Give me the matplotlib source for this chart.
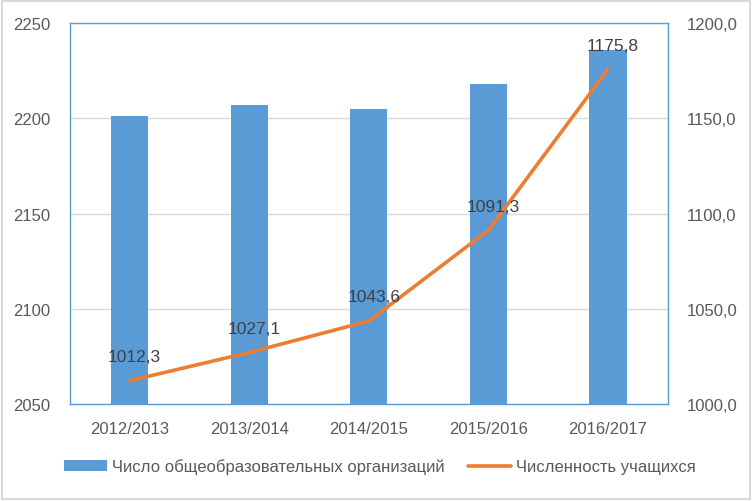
import matplotlib
matplotlib.use("Agg")
import matplotlib.pyplot as plt
from matplotlib.patches import Rectangle

categories = ["2012/2013", "2013/2014", "2014/2015", "2015/2016", "2016/2017"]
organizations = [2201, 2207, 2205, 2218, 2236]
students = [1012.3, 1027.1, 1043.6, 1091.3, 1175.8]
left_ticks = [2050, 2100, 2150, 2200, 2250]
right_ticks = [1000.0, 1050.0, 1100.0, 1150.0, 1200.0]

plt.rcParams['font.family'] = ['Liberation Sans Narrow', 'Liberation Sans', 'DejaVu Sans']
txt = '#595959'
blue = '#5B9BD5'
orange = '#ED7D31'

fig = plt.figure(figsize=(7.52, 5.02), dpi=100)
fig.patches.append(Rectangle((0.002, 0.003), 0.996, 0.994, transform=fig.transFigure,
                             fill=False, edgecolor='#D9D9D9', linewidth=1.5))
ax = fig.add_axes([0.093, 0.193, 0.795, 0.759])
x = list(range(len(categories)))
ax.bar(x, organizations, width=0.31, color=blue, zorder=2, label="Число общеобразовательных организаций")
ax.set_ylim(2050, 2250)
ax.set_yticks(left_ticks)
ax.set_yticklabels([str(v) for v in left_ticks])
ax.set_xlim(-0.5, len(categories) - 0.5)
ax.set_xticks(x)
ax.set_xticklabels(categories)
ax.grid(axis='y', color='#D9D9D9', linewidth=1, zorder=0)
ax.set_axisbelow(True)
for s in ax.spines.values():
    s.set_color(blue)
    s.set_linewidth(1)
ax.tick_params(length=0, labelsize=12, colors=txt, pad=14)
ax.tick_params(axis='x', pad=12)

ax2 = ax.twinx()
ax2.plot(x, students, color=orange, linewidth=2.6, solid_capstyle='round', zorder=3,
         label="Численность учащихся")
ax2.set_ylim(1000, 1200)
ax2.set_yticks(right_ticks)
ax2.set_yticklabels([f"{v:.1f}".replace('.', ',') for v in right_ticks])
ax2.tick_params(length=0, labelsize=12, colors=txt, pad=14)
for s in ax2.spines.values():
    s.set_visible(False)
for xi, v in zip(x, students):
    ax2.annotate(f"{v:.1f}".replace('.', ','), (xi, v), xytext=(3.5, 12), textcoords='offset points',
                 ha='center', va='bottom', fontsize=12.5, color='#404040')

h1, l1 = ax.get_legend_handles_labels()
h2, l2 = ax2.get_legend_handles_labels()
fig.legend(h1 + h2, l1 + l2, loc='center', bbox_to_anchor=(0.505, 0.069), ncol=2, frameon=False,
           fontsize=12, labelcolor=txt, handlelength=2.6, handleheight=0.6,
           handletextpad=0.3, columnspacing=1.4)

fig.savefig("out.png", dpi=100)
